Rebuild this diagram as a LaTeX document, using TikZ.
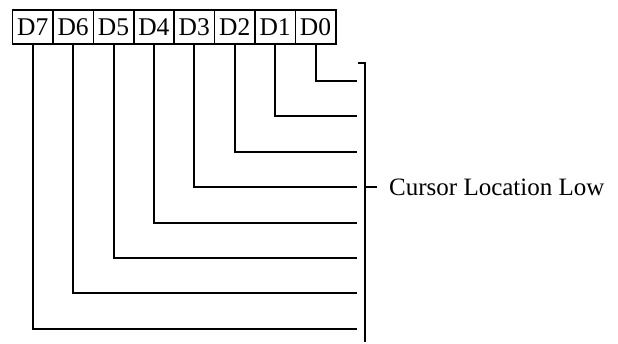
\documentclass[tikz,border=0pt]{standalone}
\usepackage{fontspec}
\setmainfont{Liberation Serif}
\begin{document}
\begin{tikzpicture}[x=1pt,y=-1pt,
  bitbox/.style={draw,line width=1.6pt,minimum width=40.4pt,minimum height=34pt,inner sep=0pt,font=\fontsize{25.5}{25.5}\selectfont,anchor=north west},
  wire/.style={line width=2pt},
  lbl/.style={font=\fontsize{25}{25}\selectfont,anchor=west,inner sep=0pt}]
\useasboundingbox (0,0) rectangle (618,343);
\foreach \i/\n in {0/7,1/6,2/5,3/4,4/3,5/2,6/1,7/0} {
  \node[bitbox] (d\n) at ({11.7+40.4*\i},9) {D\n};
}
\foreach \n/\y in {0/80.5,1/116,2/151.7,3/187.3,4/222.7,5/257.7,6/293.3,7/329.3} {
  \coordinate (e\n) at (356.7,\y);
  \draw[wire] (d\n.south) |- (e\n);
}
\coordinate (bt) at (358,63);
\coordinate (bb) at (365,342);
\coordinate (tk) at (376.7,187.3);
\draw[wire] (bt) -- (bt -| bb) -- (bb);
\draw[wire] (tk -| bb) -- (tk);
\node[lbl] (cl) at (389,187.3) {Cursor Location Low};
\end{tikzpicture}
\end{document}
